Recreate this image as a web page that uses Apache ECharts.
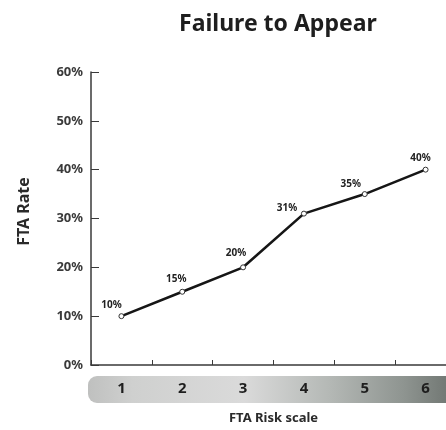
<!DOCTYPE html>
<html>
<head>
<meta charset="utf-8">
<script src="https://cdn.jsdelivr.net/npm/echarts@6/dist/echarts.min.js"></script>
<style>
  html, body { margin: 0; padding: 0; background: #ffffff; overflow: hidden; }
  /* the plot runs on past the right edge of the page, so the canvas is a bit wider */
  #chart { width: 460px; height: 430px; }
</style>
</head>
<body>
<div id="chart"></div>
<script>
// FTA risk scale levels and the failure-to-appear rate for each
const riskLevels = ['1', '2', '3', '4', '5', '6'];
const ftaRate = [10, 15, 20, 31, 35, 40];
const rateTicks = [0, 10, 20, 30, 40, 50, 60];

// per-point nudges for the value labels so they sit clear of the line
const labelNudge = [[-10, 2], [-6, 0], [-7, -1], [-17, 8], [-14, 3], [-5, 1]];

const FONT = 'Noto Sans';
const INK = '#2a2a2a';

const chart = echarts.init(document.getElementById('chart'), null, { renderer: 'canvas' });

chart.setOption({
  backgroundColor: '#ffffff',
  animation: false,
  title: {
    text: 'Failure to Appear',
    left: 174,
    top: 8,
    textStyle: { fontFamily: FONT, fontSize: 23, fontWeight: 'bold', color: '#1e1e1e' }
  },
  // shaded scale bar behind the risk level numbers
  graphic: [{
    type: 'rect',
    z: 0,
    shape: { x: 88, y: 376, width: 372, height: 27, r: [9, 0, 0, 9] },
    style: {
      fill: new echarts.graphic.LinearGradient(0, 0, 1, 0, [
        { offset: 0, color: '#bfc0bf' },
        { offset: 0.12, color: '#cfd0cf' },
        { offset: 0.42, color: '#dadada' },
        { offset: 0.65, color: '#b4b8b5' },
        { offset: 0.85, color: '#8e9490' },
        { offset: 1, color: '#6a706c' }
      ])
    }
  }],
  grid: { left: 91, top: 72, bottom: 64, right: 4 },
  xAxis: {
    type: 'category',
    data: riskLevels,
    boundaryGap: true,
    name: 'FTA Risk scale',
    nameLocation: 'middle',
    nameGap: 47,
    nameTextStyle: { fontFamily: FONT, fontSize: 13, fontWeight: 'bold', color: INK },
    axisLine: { lineStyle: { color: '#3a3a3a', width: 1.5 } },
    axisTick: { show: true, inside: true, length: 5, lineStyle: { color: '#3a3a3a' } },
    axisLabel: {
      margin: 16,
      fontFamily: FONT, fontSize: 15, fontWeight: 'bold', color: '#1e1e1e'
    },
    splitLine: { show: false },
    z: 5
  },
  yAxis: {
    type: 'value',
    min: rateTicks[0],
    max: rateTicks[rateTicks.length - 1],
    interval: 10,
    name: 'FTA Rate',
    nameLocation: 'middle',
    nameRotate: 90,
    nameGap: 59,
    nameTextStyle: { fontFamily: FONT, fontSize: 16, fontWeight: 'bold', color: INK, padding: [0, 0, 0, 14] },
    axisLine: { show: true, lineStyle: { color: '#3a3a3a', width: 1.5 } },
    axisTick: { show: true, inside: true, length: 8, lineStyle: { color: '#3a3a3a' } },
    axisLabel: {
      margin: 8,
      formatter: v => v + '%',
      fontFamily: FONT, fontSize: 13, fontWeight: 'bold', color: '#3a3a3a'
    },
    splitLine: { show: false }
  },
  series: [{
    type: 'line',
    data: ftaRate.map((v, i) => ({
      value: v,
      label: { offset: labelNudge[i] }
    })),
    symbol: 'circle',
    symbolSize: 5,
    showAllSymbol: true,
    lineStyle: { color: '#161616', width: 2.6 },
    itemStyle: { color: '#ffffff', borderColor: '#333333', borderWidth: 1 },
    label: {
      show: true,
      position: 'top',
      formatter: p => p.value + '%',
      fontFamily: FONT, fontSize: 10, fontWeight: 'bold', color: '#222222'
    },
    z: 3
  }]
});
</script>
</body>
</html>
